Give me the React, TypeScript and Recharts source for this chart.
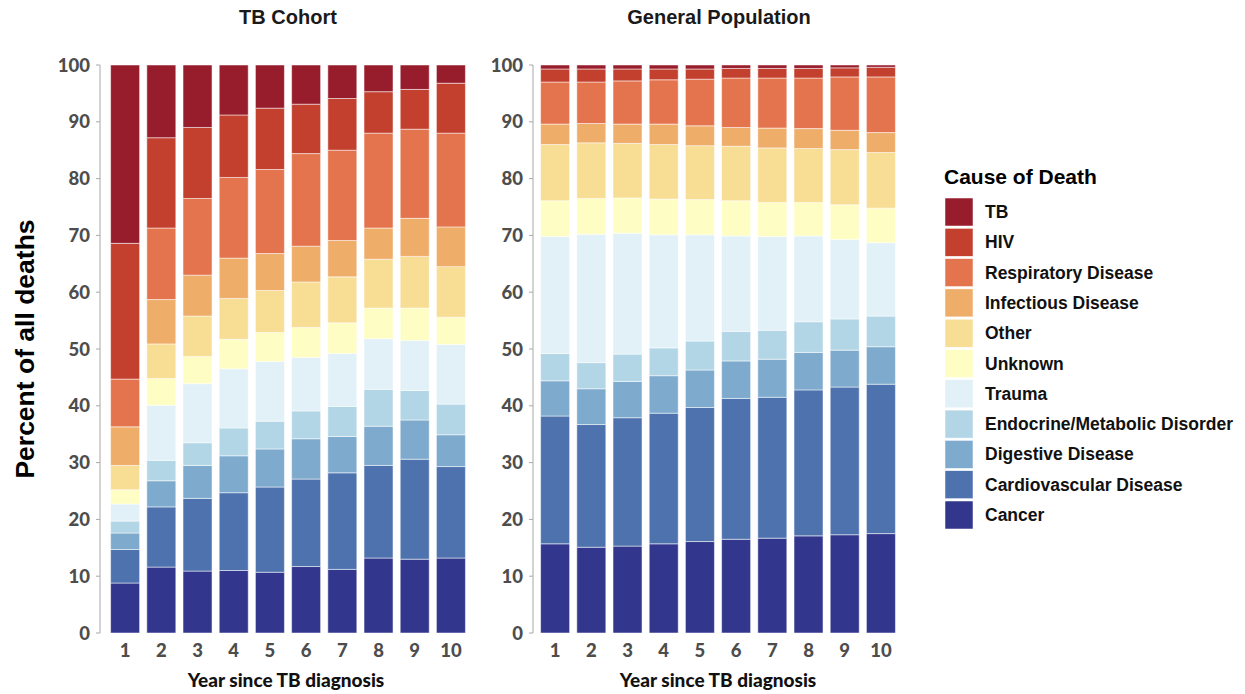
import { BarChart, Bar, XAxis, YAxis } from "recharts";

const YEARS = ["1", "2", "3", "4", "5", "6", "7", "8", "9", "10"];
const Y_TICKS = [0, 10, 20, 30, 40, 50, 60, 70, 80, 90, 100];

// TB cohort, percent of deaths per cause (bottom of stack first)
const tbCancer = [8.8, 11.6, 10.9, 11.0, 10.7, 11.7, 11.2, 13.2, 13.0, 13.2];
const tbCardio = [5.9, 10.6, 12.8, 13.7, 15.0, 15.4, 17.0, 16.3, 17.6, 16.1];
const tbDigestive = [2.9, 4.6, 5.8, 6.5, 6.7, 7.1, 6.4, 6.9, 6.9, 5.6];
const tbEndocrine = [2.1, 3.6, 4.0, 4.9, 4.9, 4.9, 5.3, 6.5, 5.2, 5.4];
const tbTrauma = [3.0, 9.7, 10.4, 10.4, 10.5, 9.4, 9.3, 8.9, 8.8, 10.5];
const tbUnknown = [2.5, 4.7, 4.8, 5.2, 5.1, 5.3, 5.4, 5.4, 5.7, 4.8];
const tbOther = [4.3, 6.1, 7.1, 7.2, 7.4, 8.0, 8.1, 8.6, 9.1, 8.9];
const tbInfectious = [6.8, 7.8, 7.2, 7.1, 6.5, 6.3, 6.4, 5.5, 6.7, 7.0];
const tbRespiratory = [8.4, 12.6, 13.5, 14.2, 14.8, 16.3, 15.9, 16.7, 15.7, 16.5];
const tbHiv = [23.9, 15.9, 12.5, 11.0, 10.8, 8.7, 9.1, 7.3, 7.0, 8.8];
const tbTb = [31.4, 12.8, 11.0, 8.8, 7.6, 6.9, 5.9, 4.7, 4.3, 3.2];

// General population
const gpCancer = [15.7, 15.1, 15.3, 15.7, 16.1, 16.5, 16.7, 17.1, 17.3, 17.5];
const gpCardio = [22.5, 21.6, 22.6, 23.0, 23.6, 24.8, 24.8, 25.7, 26.0, 26.3];
const gpDigestive = [6.2, 6.3, 6.4, 6.6, 6.6, 6.6, 6.7, 6.6, 6.5, 6.6];
const gpEndocrine = [4.8, 4.6, 4.8, 4.9, 5.1, 5.2, 5.1, 5.4, 5.5, 5.4];
const gpTrauma = [20.6, 22.6, 21.3, 19.9, 18.7, 16.8, 16.5, 15.1, 14.0, 12.9];
const gpUnknown = [6.3, 6.3, 6.2, 6.3, 6.2, 6.2, 6.0, 5.9, 6.1, 6.1];
const gpOther = [9.9, 9.8, 9.6, 9.6, 9.5, 9.6, 9.6, 9.5, 9.7, 9.8];
const gpInfectious = [3.6, 3.4, 3.4, 3.6, 3.5, 3.3, 3.5, 3.5, 3.4, 3.5];
const gpRespiratory = [7.4, 7.3, 7.6, 7.8, 8.2, 8.7, 8.8, 8.9, 9.4, 9.8];
const gpHiv = [2.3, 2.3, 2.1, 1.9, 1.8, 1.7, 1.7, 1.7, 1.6, 1.7];
const gpTb = [0.7, 0.7, 0.7, 0.7, 0.7, 0.6, 0.6, 0.6, 0.5, 0.4];

// stack order, bottom to top
const CAUSES = [
  { key: "Cancer", color: "#32368d" },
  { key: "Cardiovascular Disease", color: "#4d72ae" },
  { key: "Digestive Disease", color: "#7eaacd" },
  { key: "Endocrine/Metabolic Disorder", color: "#b3d6e6" },
  { key: "Trauma", color: "#e1f1f7" },
  { key: "Unknown", color: "#fefec4" },
  { key: "Other", color: "#f8dd94" },
  { key: "Infectious Disease", color: "#efad6a" },
  { key: "Respiratory Disease", color: "#e4744d" },
  { key: "HIV", color: "#c3402f" },
  { key: "TB", color: "#981d2c" },
];

const buildRows = (series: number[][]) =>
  YEARS.map((year, i) => {
    const row: Record<string, string | number> = { year };
    CAUSES.forEach((c, j) => {
      row[c.key] = series[j][i];
    });
    return row;
  });

const tbRows = buildRows([
  tbCancer, tbCardio, tbDigestive, tbEndocrine, tbTrauma, tbUnknown,
  tbOther, tbInfectious, tbRespiratory, tbHiv, tbTb,
]);
const gpRows = buildRows([
  gpCancer, gpCardio, gpDigestive, gpEndocrine, gpTrauma, gpUnknown,
  gpOther, gpInfectious, gpRespiratory, gpHiv, gpTb,
]);

const TICK_FONT = "Lato, 'Open Sans', sans-serif";
const HEAD_FONT = "'Liberation Sans', Arial, Helvetica, sans-serif";
const tickStyle = { fill: "#4d4d4d", fontSize: 18.5, fontWeight: 900, fontFamily: TICK_FONT };

const Panel = ({ rows, left, width, padLeft, padRight }: {
  rows: Record<string, string | number>[];
  left: number;
  width: number;
  padLeft: number;
  padRight: number;
}) => (
  <div style={{ position: "absolute", left, top: 0 }}>
    <BarChart
      width={width}
      height={694}
      data={rows}
      margin={{ top: 65, right: 0, bottom: 0, left: 0 }}
      barCategoryGap="10%"
    >
      <XAxis
        dataKey="year"
        interval={0}
        axisLine={false}
        tickLine={false}
        tickMargin={5}
        height={61}
        padding={{ left: padLeft, right: padRight }}
        tick={tickStyle}
        label={{
          value: "Year since TB diagnosis",
          position: "insideBottom",
          offset: 7,
          fill: "#111",
          fontSize: 19,
          fontWeight: 900,
          fontFamily: TICK_FONT,
        }}
      />
      <YAxis
        width={100}
        domain={[0, 100]}
        ticks={Y_TICKS}
        interval={0}
        allowDataOverflow
        tickSize={4}
        tickMargin={6}
        axisLine={{ stroke: "#a8a8a8" }}
        tickLine={{ stroke: "#a8a8a8" }}
        tick={tickStyle}
      />
      {CAUSES.map((c) => (
        <Bar
          key={c.key}
          dataKey={c.key}
          stackId="a"
          fill={c.color}
          stroke="#ffffff"
          strokeWidth={0.5}
          isAnimationActive={false}
        />
      ))}
    </BarChart>
  </div>
);

export default function App() {
  const legendItems = [...CAUSES].reverse();
  return (
    <div style={{ position: "absolute", left: 0, top: 0, width: 1245, height: 694, background: "#fff" }}>
      <Panel rows={tbRows} left={0} width={472} padLeft={7} padRight={3} />
      <Panel rows={gpRows} left={433} width={470} padLeft={4} padRight={4} />
      <svg
        width={1245}
        height={694}
        style={{ position: "absolute", left: 0, top: 0, pointerEvents: "none" }}
      >
        <g fontFamily={HEAD_FONT} fontWeight={700} fill="#1a1a1a">
          <text x={288} y={24} fontSize={20} textAnchor="middle">TB Cohort</text>
          <text x={719} y={24} fontSize={20} textAnchor="middle">General Population</text>
          <text
            x={34}
            y={349}
            fontSize={26.5}
            textAnchor="middle"
            fill="#000"
            transform="rotate(-90, 34, 349)"
          >
            Percent of all deaths
          </text>
          <text x={944} y={184} fontSize={21} fill="#000">Cause of Death</text>
          {legendItems.map((c, i) => {
            const y = 198 + i * 30.3;
            return (
              <g key={c.key}>
                <rect x={945} y={y} width={28} height={28} fill={c.color} stroke="#fff" strokeWidth={0.5} />
                <text x={985} y={y + 20} fontSize={17.5} fill="#111">{c.key}</text>
              </g>
            );
          })}
        </g>
      </svg>
    </div>
  );
}
